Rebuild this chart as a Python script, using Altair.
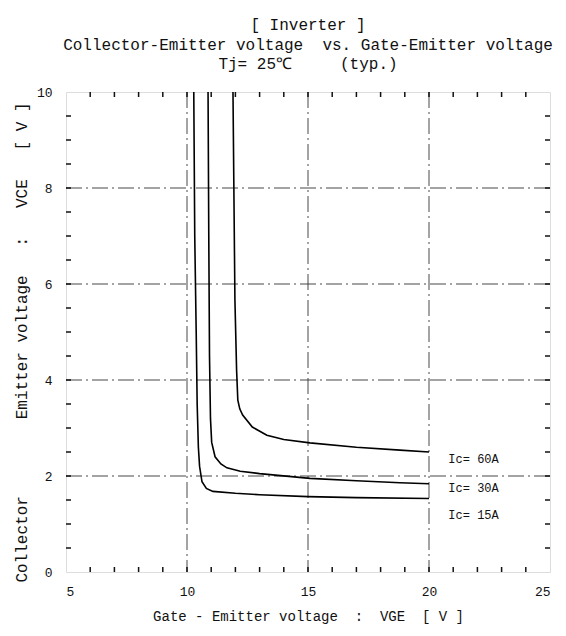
import altair as alt
import pandas as pd

# ---- data ----
vge_15 = [10.28, 10.32, 10.38, 10.42, 10.47, 10.52, 10.62, 10.8, 11.07, 12.0, 13.0, 15.0, 17.0, 20.0]
vce_15 = [10.0, 7.0, 5.0, 3.5, 2.6, 2.2, 1.88, 1.74, 1.68, 1.64, 1.61, 1.57, 1.55, 1.53]

vge_30 = [10.87, 10.9, 10.93, 10.97, 11.02, 11.16, 11.4, 11.65, 12.2, 13.0, 15.08, 17.0, 18.8, 20.0]
vce_30 = [10.0, 7.0, 4.5, 3.2, 2.7, 2.4, 2.25, 2.17, 2.1, 2.05, 1.95, 1.9, 1.86, 1.84]

vge_60 = [11.9, 11.98, 12.05, 12.1, 12.18, 12.3, 12.7, 13.3, 14.0, 15.08, 17.0, 18.8, 20.0]
vce_60 = [10.0, 5.67, 4.2, 3.58, 3.4, 3.27, 3.02, 2.85, 2.76, 2.69, 2.6, 2.54, 2.5]

series_names = ["Ic= 15A", "Ic= 30A", "Ic= 60A"]
label_x = [20.8, 20.8, 20.8]
label_y = [1.19, 1.75, 2.35]

x_major = [5, 10, 15, 20, 25]
y_major = [0, 2, 4, 6, 8, 10]
x_grid = [10, 15, 20]
y_grid = [2, 4, 6, 8]
x_minor = [6, 7, 8, 9, 10, 11, 12, 13, 14, 15, 16, 17, 18, 19, 20, 21, 22, 23, 24]
y_minor = [0.5, 1, 1.5, 2, 2.5, 3, 3.5, 4, 4.5, 5, 5.5, 6, 6.5, 7, 7.5, 8, 8.5, 9, 9.5]

rows = []
for name, xs, ys in zip(series_names, [vge_15, vge_30, vge_60], [vce_15, vce_30, vce_60]):
    for i, (a, b) in enumerate(zip(xs, ys)):
        rows.append({"series": name, "vge": a, "vce": b, "order": i})
curves = pd.DataFrame(rows)
labels = pd.DataFrame({"series": series_names, "x": label_x, "y": label_y})
xg = pd.DataFrame({"x": x_grid})
yg = pd.DataFrame({"y": y_grid})
xt = pd.DataFrame({"x": x_minor})
yt = pd.DataFrame({"y": y_minor})

W, H = 484, 480
FONT = "Liberation Mono"
NB = "\u00a0"

xscale = alt.Scale(domain=[5, 25], nice=False, zero=False)
yscale = alt.Scale(domain=[0, 10], nice=False, zero=False)

xaxis = alt.Axis(values=x_major, tickSize=0, domain=False, grid=False, labelPadding=13,
                 labelFont=FONT, labelFontSize=13, labelColor="#111",
                 title=f"Gate - Emitter voltage{NB*2}:{NB*2}VGE{NB*2}[ V ]",
                 titleFont=FONT, titleFontSize=14, titleFontWeight="normal", titleColor="#111",
                 titlePadding=11)
yaxis = alt.Axis(values=y_major, tickSize=0, domain=False, grid=False, labelPadding=14,
                 labelFont=FONT, labelFontSize=13, labelColor="#111",
                 title=f"Collector{NB*8}Emitter voltage{NB*3}:{NB*3}VCE{NB*3}[ V ]",
                 titleFont=FONT, titleFontSize=16, titleFontWeight="normal", titleColor="#111",
                 titlePadding=7, titleY=250)

dash = [16, 4, 2, 4]
grid_v = alt.Chart(xg).mark_rule(color="#333", strokeWidth=0.9, strokeDash=dash).encode(
    x=alt.X("x:Q", scale=xscale, axis=xaxis), y=alt.value(0), y2=alt.value(H))
grid_h = alt.Chart(yg).mark_rule(color="#333", strokeWidth=0.9, strokeDash=dash).encode(
    y=alt.Y("y:Q", scale=yscale, axis=yaxis), x=alt.value(0), x2=alt.value(W))

tick_b = alt.Chart(xt).mark_rule(color="#111", strokeWidth=1.5).encode(
    x=alt.X("x:Q", scale=xscale), y=alt.value(H), y2=alt.value(H - 5))
tick_t = alt.Chart(xt).mark_rule(color="#111", strokeWidth=1.5).encode(
    x=alt.X("x:Q", scale=xscale), y=alt.value(0), y2=alt.value(5))
tick_l = alt.Chart(yt).mark_rule(color="#111", strokeWidth=1.5).encode(
    y=alt.Y("y:Q", scale=yscale), x=alt.value(0), x2=alt.value(5))
tick_r = alt.Chart(yt).mark_rule(color="#111", strokeWidth=1.5).encode(
    y=alt.Y("y:Q", scale=yscale), x=alt.value(W), x2=alt.value(W - 5))

lines = alt.Chart(curves).mark_line(color="#000", strokeWidth=1.6, clip=True).encode(
    x=alt.X("vge:Q", scale=xscale),
    y=alt.Y("vce:Q", scale=yscale),
    detail="series:N",
    order="order:Q")

text = alt.Chart(labels).mark_text(align="left", baseline="middle", font=FONT, fontSize=12,
                                   color="#111").encode(
    x=alt.X("x:Q", scale=xscale), y=alt.Y("y:Q", scale=yscale), text="series:N")

chart = alt.layer(grid_v, grid_h, tick_b, tick_t, tick_l, tick_r, lines, text).properties(
    width=W, height=H,
    autosize="none",
    padding={"left": 66, "top": 92, "right": 16, "bottom": 64},
    title=alt.TitleParams(
        text=["[ Inverter ]",
              f"Collector-Emitter voltage{NB*2}vs. Gate-Emitter voltage",
              f"Tj= 25\u2103{NB*5}(typ.){NB*3}"],
        font=FONT, fontSize=16, fontWeight="normal", color="#111",
        anchor="middle", lineHeight=19.5, offset=14, dx=0),
).configure_view(stroke="#000", strokeWidth=1.8).configure(background="white")

chart.save("out.html", embed_options={"renderer": "svg", "actions": False})
